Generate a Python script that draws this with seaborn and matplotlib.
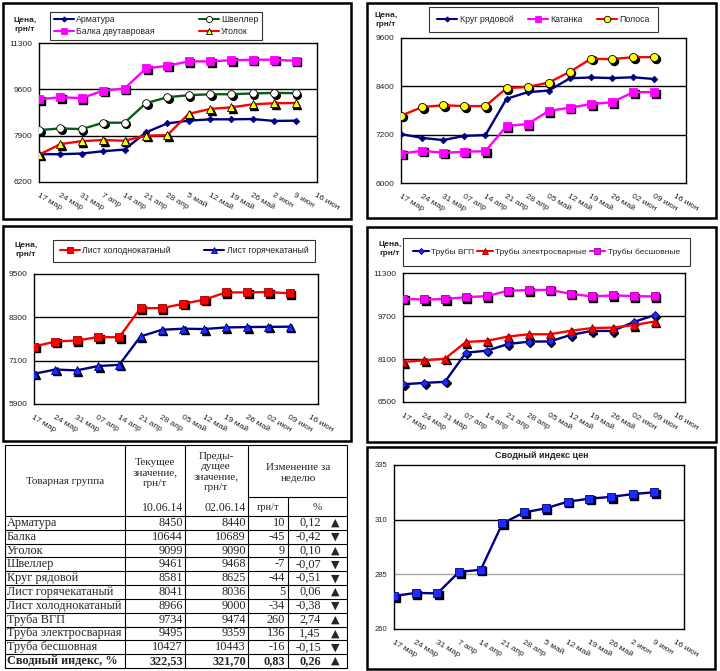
import numpy as np
import matplotlib
matplotlib.use('Agg')
import matplotlib.pyplot as plt
import seaborn as sns
from matplotlib.transforms import offset_copy
from matplotlib.lines import Line2D
from matplotlib.patches import Rectangle

sns.set_style('white')
plt.rcParams['font.family'] = ['Liberation Sans', 'DejaVu Sans']

# ---------------- data ----------------
dates_a = ['17 мар', '24 мар', '31 мар', '7 апр', '14 апр', '21 апр', '28 апр',
           '5 май', '12 май', '19 май', '26 май', '2 июн', '9 июн', '16 июн']
dates_b = ['17 мар', '24 мар', '31 мар', '07 апр', '14 апр', '21 апр', '28 апр',
           '05 май', '12 май', '19 май', '26 май', '02 июн', '09 июн', '16 июн']

armatura = [7220, 7220, 7245, 7330, 7390, 8020, 8350, 8450, 8500, 8500, 8510, 8440, 8450]
shveller = [8105, 8165, 8140, 8375, 8375, 9090, 9310, 9385, 9420, 9420, 9450, 9468, 9461]
balka = [9235, 9310, 9275, 9555, 9630, 10365, 10465, 10625, 10625, 10670, 10685, 10689, 10644]
ugolok = [7200, 7590, 7700, 7740, 7715, 7900, 7920, 8700, 8880, 8940, 9050, 9090, 9099]

krug = [7215, 7120, 7065, 7170, 7190, 8090, 8255, 8295, 8600, 8620, 8605, 8625, 8581]
katanka = [6730, 6800, 6750, 6775, 6790, 7415, 7465, 7790, 7870, 7960, 8005, 8255, 8255]
polosa = [7670, 7885, 7930, 7910, 7910, 8355, 8385, 8495, 8760, 9085, 9075, 9125, 9125]

list_cold = [7490, 7630, 7660, 7750, 7750, 8555, 8555, 8675, 8790, 8990, 8990, 9000, 8966]
list_hot = [6735, 6855, 6830, 6950, 6985, 7770, 7955, 7985, 7975, 8020, 8030, 8036, 8041]

truby_vgp = [7160, 7210, 7250, 8335, 8410, 8655, 8745, 8755, 8995, 9145, 9145, 9474, 9734]
truby_el = [7990, 8050, 8110, 8735, 8775, 8935, 9020, 9020, 9150, 9250, 9270, 9359, 9495]
truby_bs = [10340, 10315, 10330, 10400, 10440, 10640, 10665, 10675, 10525, 10430, 10465, 10443, 10427]

index_vals = [275.1, 276.5, 276.3, 286.1, 287.1, 308.3, 313.3, 315.2, 318.2, 319.6, 320.4, 321.70, 322.53]

yt1 = [6200, 7900, 9600, 11300]
yt2 = [6000, 7200, 8400, 9600]
yt3 = [5900, 7100, 8300, 9500]
yt4 = [6500, 8100, 9700, 11300]
yt6 = [260, 285, 310, 335]

tbl_names = ['Арматура', 'Балка', 'Уголок', 'Швеллер', 'Круг рядовой', 'Лист горячекатаный',
             'Лист холоднокатаный', 'Труба ВГП', 'Труба электросварная', 'Труба бесшовная']
tbl_cur = ['8450', '10644', '9099', '9461', '8581', '8041', '8966', '9734', '9495', '10427']
tbl_prev = ['8440', '10689', '9090', '9468', '8625', '8036', '9000', '9474', '9359', '10443']
tbl_diff = ['10', '-45', '9', '-7', '-44', '5', '-34', '260', '136', '-16']
tbl_pct = ['0,12', '-0,42', '0,10', '-0,07', '-0,51', '0,06', '-0,38', '2,74', '1,45', '-0,15']
idx_row = ['Сводный индекс, %', '322,53', '321,70', '0,83', '0,26']

# ---------------- figure ----------------
W, H = 720, 671
fig = plt.figure(figsize=(W / 100, H / 100), dpi=100)
fig.patch.set_facecolor('white')

ov = fig.add_axes([0, 0, 1, 1], zorder=0)
ov.set_xlim(0, W)
ov.set_ylim(H, 0)
ov.axis('off')


def frame(x0, y0, x1, y1, lw=1.8):
    ov.add_patch(Rectangle((x0, y0), x1 - x0, y1 - y0, fill=False, ec='black', lw=lw))


frame(3, 3, 351, 219)
frame(367, 3, 716, 218)
frame(3, 226, 351, 441)
frame(367, 227, 716, 442)
frame(367, 447, 715, 669)


def px_axes(x0, y0, x1, y1):
    return fig.add_axes([x0 / W, 1 - y1 / H, (x1 - x0) / W, (y1 - y0) / H], zorder=2)


def setup(ax, yticks, labels, xmax, gridcolors, yfs=6):
    ax.set_facecolor('white')
    ax.set_xlim(0, xmax)
    ax.set_ylim(yticks[0], yticks[-1])
    ax.set_yticks(yticks)
    ax.set_yticklabels([str(t) for t in yticks], fontsize=yfs)
    ax.set_xticks(range(len(labels)))
    ax.set_xticklabels(labels, rotation=-30, ha='left', va='top',
                       rotation_mode='anchor', fontsize=6)
    for t, c in zip(yticks[1:-1], gridcolors):
        ax.axhline(t, color=c, lw=1.0, zorder=1)
    for s in ax.spines.values():
        s.set_color('black')
        s.set_linewidth(1.0)
        s.set_visible(True)
    ax.tick_params(axis='both', direction='out', length=3, width=0.8, color='black', pad=2)
    ax.tick_params(axis='x', pad=4)
    ax.set_xlabel('')
    ax.set_ylabel('')


def series(ax, y, color, marker, ms, mfc, mec, label, shadow=True):
    x = np.arange(len(y))
    if shadow:
        ax.plot(x, y, ls='none', marker=marker, ms=ms, color='black', mec='black',
                transform=offset_copy(ax.transData, fig=fig, x=1.6, y=-1.6, units='dots'),
                zorder=2)
    sns.lineplot(x=x, y=y, ax=ax, color=color, lw=1.7, marker=marker, markersize=ms,
                 markerfacecolor=mfc, markeredgecolor=mec, markeredgewidth=0.6,
                 legend=False, zorder=3)
    return Line2D([], [], color=color, lw=1.5, marker=marker, ms=ms * 0.8,
                  mfc=mfc, mec=mec, mew=0.6, label=label)


def legend(handles, ncol, x0, y0, x1, bp, ls=0.3, fs=6.3, hl=2.3, cs=1.0):
    lg = fig.legend(handles=handles, loc='upper left',
                    bbox_to_anchor=(x0 / W, 1 - y0 / H, (x1 - x0) / W, 0.0001),
                    mode='expand', ncol=ncol, frameon=True, fancybox=False,
                    edgecolor='black', fontsize=fs, handlelength=hl, handletextpad=0.3,
                    borderpad=bp, labelspacing=ls, columnspacing=cs, borderaxespad=0)
    lg.get_frame().set_linewidth(0.8)
    lg.set_zorder(5)
    return lg


NAVY = '#000080'
MAG = '#FF00FF'
RED = '#FF0000'
GREEN = '#0B5A1A'
YEL = '#FFFF00'
BLUE = '#1A2CFF'

# ---- panel 1 ----
ax1 = px_axes(39, 43, 317, 182)
h1 = [series(ax1, armatura, NAVY, 'D', 3.3, NAVY, NAVY, 'Арматура', shadow=False),
      series(ax1, balka, MAG, 's', 5.2, MAG, MAG, 'Балка двутавровая'),
      series(ax1, shveller, GREEN, 'o', 5.5, 'white', 'black', 'Швеллер'),
      series(ax1, ugolok, RED, '^', 5.8, YEL, 'black', 'Уголок')]
setup(ax1, yt1, dates_a, 13, ['black', 'black'])
legend(h1, 2, 50, 12, 262, 0.4)

# ---- panel 2 ----
ax2 = px_axes(401, 38, 686, 183)
h2 = [series(ax2, krug, NAVY, 'D', 3.3, NAVY, NAVY, 'Круг рядовой', shadow=False),
      series(ax2, katanka, MAG, 's', 5.5, MAG, MAG, 'Катанка'),
      series(ax2, polosa, RED, 'o', 5.8, YEL, 'black', 'Полоса')]
setup(ax2, yt2, dates_b, 13.5, ['black', 'black'])
legend(h2, 3, 429, 7, 658, 0.9)

# ---- panel 3 ----
ax3 = px_axes(34, 274, 318, 404)
h3 = [series(ax3, list_cold, RED, 's', 5.5, RED, '#990000', 'Лист холоднокатаный'),
      series(ax3, list_hot, NAVY, '^', 6.0, BLUE, NAVY, 'Лист горячекатаный')]
setup(ax3, yt3, dates_b, 13.33, ['black', 'black'])
legend(h3, 2, 53, 240, 315, 0.75)

# ---- panel 4 ----
ax4 = px_axes(403, 273, 685, 402)
h4 = [series(ax4, truby_vgp, NAVY, 'D', 3.8, BLUE, NAVY, 'Трубы ВГП'),
      series(ax4, truby_el, RED, '^', 5.8, RED, '#990000', 'Трубы электросварные'),
      series(ax4, truby_bs, MAG, 's', 6.0, MAG, '#990099', 'Трубы бесшовные')]
setup(ax4, yt4, dates_b, 13.45, ['black', 'black'])
legend(h4, 3, 403, 238, 690, 1.2, fs=6.0, hl=1.9, cs=0.6)

# ---- panel 6 ----
ax6 = px_axes(394, 465, 684, 629)
series(ax6, index_vals, NAVY, 's', 5.5, BLUE, NAVY, 'Сводный индекс цен')
setup(ax6, yt6, dates_a, 13.37, ['#A8A8A8', 'black'], yfs=5.5)
ov.text(542, 456, 'Сводный индекс цен', ha='center', va='center', fontsize=6.5, fontweight='bold')

# "Цена, грн/т" labels
for (cx, cy) in [(25, 25), (386, 20), (26, 250), (390, 249)]:
    ov.text(cx, cy, 'Цена,\nгрн/т', ha='center', va='center', fontsize=6,
            fontweight='bold', linespacing=1.3)

# ---------------- table ----------------
SERIF = ['Liberation Serif', 'DejaVu Serif']
SYM = ['DejaVu Sans']
tx0, tx1, ty0, ty1 = 5, 347, 445, 668
c1, c2, c3, c4 = 125, 185, 248, 288
hdr_bot = 516
row_h = (ty1 - hdr_bot) / 11.0
lw_t = 0.8
ov.add_patch(Rectangle((tx0, ty0), tx1 - tx0, ty1 - ty0, fill=False, ec='black', lw=lw_t))
for cx in (c1, c2, c3):
    ov.plot([cx, cx], [ty0, ty1], color='black', lw=lw_t)
ov.plot([c4, c4], [497, ty1], color='black', lw=lw_t)
ov.plot([c3, tx1], [497, 497], color='black', lw=lw_t)
for i in range(11):
    yy = hdr_bot + i * row_h
    ov.plot([tx0, tx1], [yy, yy], color='black', lw=lw_t)

hfs = 8
ov.text(65, 481, 'Товарная группа', ha='center', va='center', fontsize=hfs, family=SERIF)
ov.text(155, 473, 'Текущее\nзначение,\nгрн/т', ha='center', va='center', fontsize=hfs,
        family=SERIF, linespacing=1.15)
ov.text(216, 472, 'Преды-\nдущее\nзначение,\nгрн/т', ha='center', va='center', fontsize=hfs,
        family=SERIF, linespacing=1.15)
ov.text(298, 473, 'Изменение за\nнеделю', ha='center', va='center', fontsize=hfs,
        family=SERIF, linespacing=1.3)
ov.text(183, 508, '10.06.14', ha='right', va='center', fontsize=hfs + 0.5, family=SERIF)
ov.text(246, 508, '02.06.14', ha='right', va='center', fontsize=hfs + 0.5, family=SERIF)
ov.text(268, 508, 'грн/т', ha='center', va='center', fontsize=7.5, family=SERIF)
ov.text(317, 507, '%', ha='center', va='center', fontsize=hfs, family=SERIF)

rfs = 8.8
for i, name in enumerate(tbl_names):
    yc = hdr_bot + (i + 0.5) * row_h
    ov.text(7, yc, name, ha='left', va='center', fontsize=rfs, family=SERIF)
    ov.text(183, yc, tbl_cur[i], ha='right', va='center', fontsize=rfs, family=SERIF)
    ov.text(246, yc, tbl_prev[i], ha='right', va='center', fontsize=rfs, family=SERIF)
    ov.text(285, yc, tbl_diff[i], ha='right', va='center', fontsize=rfs, family=SERIF)
    ov.text(321, yc, tbl_pct[i], ha='right', va='center', fontsize=rfs, family=SERIF)
    arrow = '▼' if tbl_diff[i].startswith('-') else '▲'
    ov.text(335, yc, arrow, ha='center', va='center', fontsize=8, family=SYM)

yc = hdr_bot + 10.5 * row_h
ov.text(7, yc, idx_row[0], ha='left', va='center', fontsize=rfs, family=SERIF, fontweight='bold')
ov.text(183, yc, idx_row[1], ha='right', va='center', fontsize=rfs, family=SERIF, fontweight='bold')
ov.text(246, yc, idx_row[2], ha='right', va='center', fontsize=rfs, family=SERIF, fontweight='bold')
ov.text(285, yc, idx_row[3], ha='right', va='center', fontsize=rfs, family=SERIF, fontweight='bold')
ov.text(321, yc, idx_row[4], ha='right', va='center', fontsize=rfs, family=SERIF, fontweight='bold')
ov.text(335, yc, '▲', ha='center', va='center', fontsize=8, family=SYM)

fig.savefig('out.png', dpi=100, facecolor='white')
